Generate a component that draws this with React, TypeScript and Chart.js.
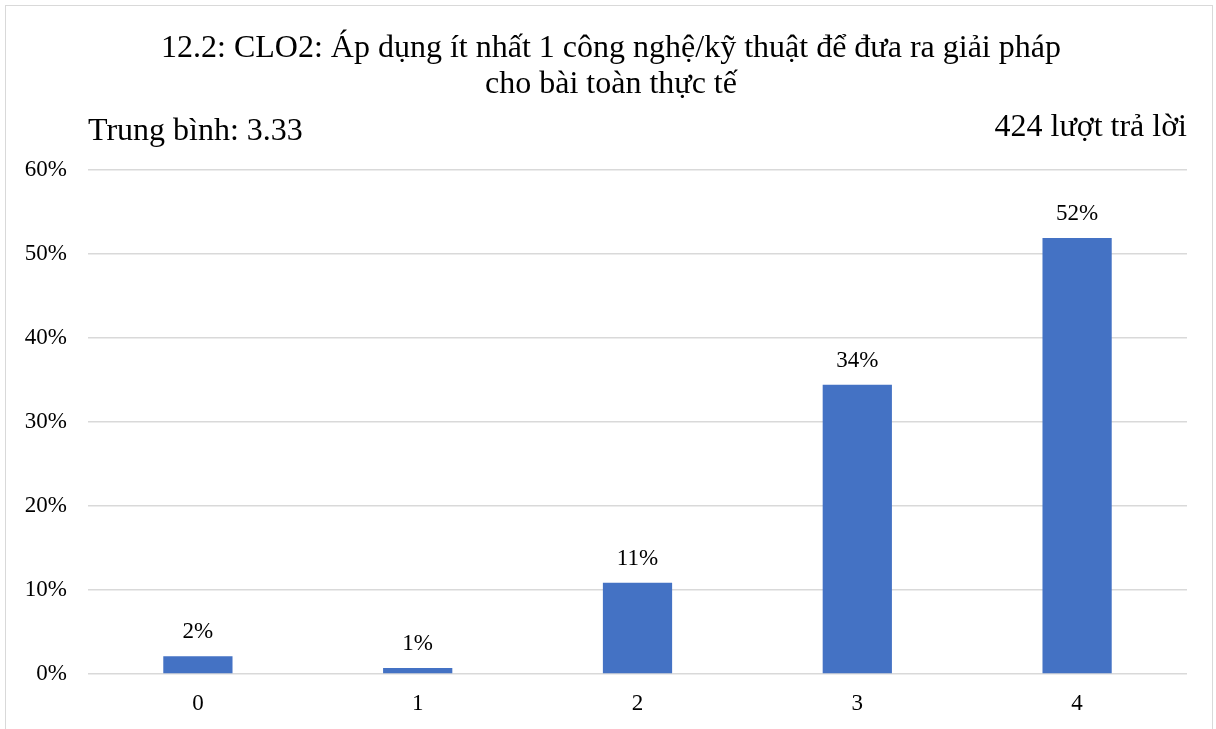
import React, { useEffect, useRef } from "react";
import { Chart, registerables } from "chart.js";

Chart.register(...registerables);

const categories = ["0", "1", "2", "3", "4"];
const percentages = [2.12, 0.71, 10.85, 34.43, 51.89];
const valueLabels = ["2%", "1%", "11%", "34%", "52%"];
const titleLines = [
  "12.2: CLO2: Áp dụng ít nhất 1 công nghệ/kỹ thuật để đưa ra giải pháp",
  "cho bài toàn thực tế",
];
const meanText = "Trung bình: 3.33";
const countText = "424 lượt trả lời";

const FONT = "'Liberation Serif', 'Times New Roman', serif";

const textPlugin = {
  id: "textPlugin",
  afterDatasetsDraw(chart: any) {
    const ctx = chart.ctx;
    ctx.save();
    ctx.fillStyle = "#000";
    ctx.textBaseline = "middle";
    ctx.font = `32px ${FONT}`;
    ctx.textAlign = "center";
    ctx.fillText(titleLines[0], 611, 49);
    ctx.fillText(titleLines[1], 611, 85);
    ctx.textAlign = "left";
    ctx.fillText(meanText, 88, 132);
    ctx.textAlign = "right";
    ctx.fillText(countText, 1187, 128);
    ctx.font = `23px ${FONT}`;
    ctx.textAlign = "center";
    const meta = chart.getDatasetMeta(0);
    meta.data.forEach((bar: any, i: number) => {
      ctx.fillText(valueLabels[i], bar.x, bar.y - 24);
    });
    ctx.restore();
  },
};

export default function App() {
  const ref = useRef<HTMLCanvasElement>(null);
  useEffect(() => {
    document.body.style.margin = "0";
    const chart = new Chart(ref.current!, {
      type: "bar",
      data: {
        labels: categories,
        datasets: [
          {
            data: percentages,
            backgroundColor: "#4472C4",
            barPercentage: 0.315,
            categoryPercentage: 1,
          },
        ],
      },
      options: {
        animation: false,
        responsive: false,
        maintainAspectRatio: false,
        layout: { padding: { top: 170, left: 8, right: 29, bottom: 15 } },
        plugins: {
          legend: { display: false },
          title: { display: false },
          tooltip: { enabled: false },
        },
        scales: {
          x: {
            grid: { display: false, drawTicks: false },
            border: { display: false },
            ticks: {
              color: "#000",
              font: { family: FONT, size: 23 },
              padding: 16,
            },
            afterFit: (s: any) => {
              s.height = 40;
            },
          },
          y: {
            min: 0,
            max: 60,
            grid: { color: "#d9d9d9", lineWidth: 1.5, drawTicks: false },
            border: { display: false },
            ticks: {
              stepSize: 10,
              color: "#000",
              font: { family: FONT, size: 23 },
              padding: 21,
              callback: (v: any) => `${v}%`,
            },
            afterFit: (s: any) => {
              s.width = 80;
            },
          },
        },
      },
      plugins: [textPlugin],
    });
    return () => chart.destroy();
  }, []);
  return (
    <div style={{ position: "absolute", left: 0, top: 0, width: 1216, height: 729, background: "#fff", overflow: "hidden" }}>
      <div
        style={{
          position: "absolute",
          left: 5,
          top: 5,
          width: 1208,
          height: 740,
          border: "1.5px solid #d9d9d9",
          boxSizing: "border-box",
        }}
      />
      <canvas ref={ref} width={1216} height={729} style={{ position: "absolute", left: 0, top: 0 }} />
    </div>
  );
}
